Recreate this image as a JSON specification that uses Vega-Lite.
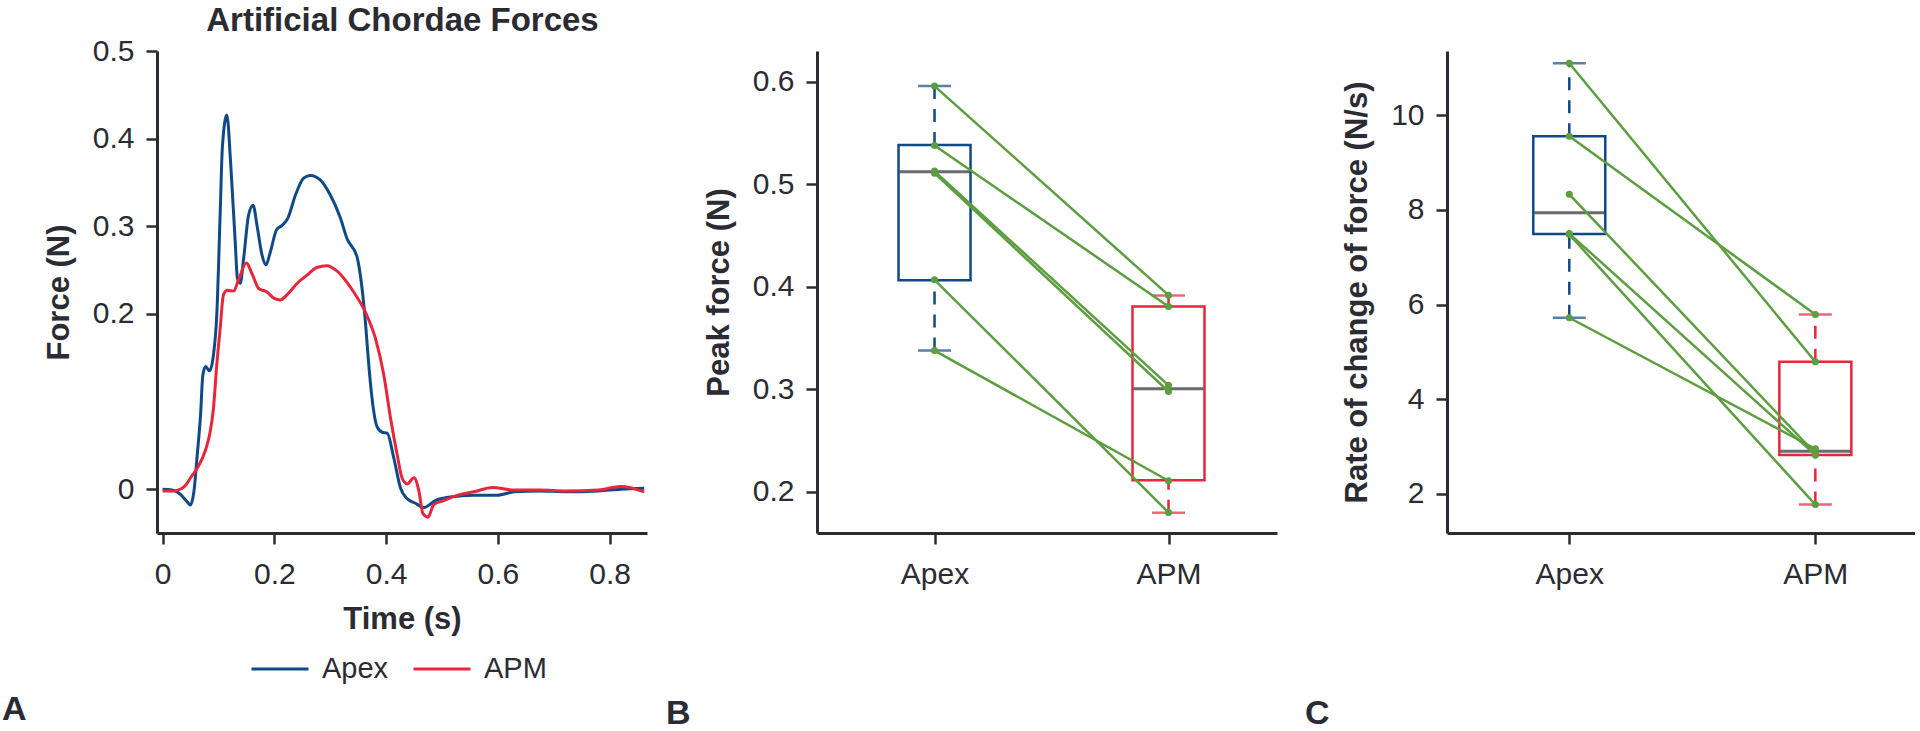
{
  "$schema": "https://vega.github.io/schema/vega-lite/v6.json",
  "background": "white",
  "padding": {"left": 2, "top": 4, "right": 0, "bottom": 0},
  "bounds": "flush",
  "spacing": 170,
  "config": {
    "view": {"stroke": null},
    "font": "Liberation Sans",
    "axis": {
      "domainColor": "#2b2b33", "domainWidth": 3,
      "tickColor": "#2b2b33", "tickWidth": 2.5, "tickSize": 11,
      "labelColor": "#2b2b33", "labelFontSize": 30, "labelFont": "Liberation Sans",
      "titleColor": "#2b2b33", "titleFontSize": 31, "titleFontWeight": "bold", "titleFont": "Liberation Sans",
      "grid": false
    },
    "axisX": {"labelPadding": 15, "titlePadding": 15, "labelAngle": 0},
    "axisY": {"labelPadding": 12, "titlePadding": 17},
    "title": {"font": "Liberation Sans", "fontSize": 34, "fontWeight": "bold", "color": "#2b2b33"},
    "legend": {"labelFont": "Liberation Sans", "labelFontSize": 29, "labelColor": "#2b2b33"}
  },
  "datasets": {
    "force": [
      {"s": "Apex", "t": 0, "F": 0},
      {"s": "Apex", "t": 0.017, "F": -0.001},
      {"s": "Apex", "t": 0.032, "F": -0.006},
      {"s": "Apex", "t": 0.042, "F": -0.013},
      {"s": "Apex", "t": 0.05, "F": -0.018},
      {"s": "Apex", "t": 0.056, "F": -0.003},
      {"s": "Apex", "t": 0.062, "F": 0.039},
      {"s": "Apex", "t": 0.068, "F": 0.085},
      {"s": "Apex", "t": 0.072, "F": 0.13},
      {"s": "Apex", "t": 0.077, "F": 0.14},
      {"s": "Apex", "t": 0.084, "F": 0.135},
      {"s": "Apex", "t": 0.091, "F": 0.153},
      {"s": "Apex", "t": 0.097, "F": 0.199},
      {"s": "Apex", "t": 0.103, "F": 0.313},
      {"s": "Apex", "t": 0.107, "F": 0.39},
      {"s": "Apex", "t": 0.115, "F": 0.427},
      {"s": "Apex", "t": 0.122, "F": 0.37},
      {"s": "Apex", "t": 0.13, "F": 0.282},
      {"s": "Apex", "t": 0.134, "F": 0.24},
      {"s": "Apex", "t": 0.139, "F": 0.235},
      {"s": "Apex", "t": 0.145, "F": 0.263},
      {"s": "Apex", "t": 0.154, "F": 0.313},
      {"s": "Apex", "t": 0.162, "F": 0.324},
      {"s": "Apex", "t": 0.169, "F": 0.301},
      {"s": "Apex", "t": 0.178, "F": 0.267},
      {"s": "Apex", "t": 0.185, "F": 0.256},
      {"s": "Apex", "t": 0.193, "F": 0.271},
      {"s": "Apex", "t": 0.204, "F": 0.296},
      {"s": "Apex", "t": 0.214, "F": 0.301},
      {"s": "Apex", "t": 0.224, "F": 0.309},
      {"s": "Apex", "t": 0.238, "F": 0.336},
      {"s": "Apex", "t": 0.2525, "F": 0.355},
      {"s": "Apex", "t": 0.2645, "F": 0.358},
      {"s": "Apex", "t": 0.282, "F": 0.353},
      {"s": "Apex", "t": 0.3, "F": 0.336},
      {"s": "Apex", "t": 0.318, "F": 0.31},
      {"s": "Apex", "t": 0.33, "F": 0.286},
      {"s": "Apex", "t": 0.348, "F": 0.265},
      {"s": "Apex", "t": 0.357, "F": 0.229},
      {"s": "Apex", "t": 0.363, "F": 0.191},
      {"s": "Apex", "t": 0.369, "F": 0.142},
      {"s": "Apex", "t": 0.375, "F": 0.103},
      {"s": "Apex", "t": 0.384, "F": 0.071},
      {"s": "Apex", "t": 0.393, "F": 0.065},
      {"s": "Apex", "t": 0.402, "F": 0.064},
      {"s": "Apex", "t": 0.414, "F": 0.035},
      {"s": "Apex", "t": 0.426, "F": 0.001},
      {"s": "Apex", "t": 0.438, "F": -0.011},
      {"s": "Apex", "t": 0.4525, "F": -0.016},
      {"s": "Apex", "t": 0.4675, "F": -0.021},
      {"s": "Apex", "t": 0.488, "F": -0.013},
      {"s": "Apex", "t": 0.515, "F": -0.009},
      {"s": "Apex", "t": 0.557, "F": -0.007},
      {"s": "Apex", "t": 0.599, "F": -0.007},
      {"s": "Apex", "t": 0.629, "F": -0.003},
      {"s": "Apex", "t": 0.676, "F": -0.002},
      {"s": "Apex", "t": 0.72, "F": -0.003},
      {"s": "Apex", "t": 0.78, "F": -0.002},
      {"s": "Apex", "t": 0.82, "F": 0},
      {"s": "Apex", "t": 0.862, "F": 0.001},
      {"s": "APM", "t": 0, "F": -0.002},
      {"s": "APM", "t": 0.02, "F": -0.002},
      {"s": "APM", "t": 0.035, "F": 0.001},
      {"s": "APM", "t": 0.042, "F": 0.005},
      {"s": "APM", "t": 0.05, "F": 0.013},
      {"s": "APM", "t": 0.062, "F": 0.024},
      {"s": "APM", "t": 0.077, "F": 0.045},
      {"s": "APM", "t": 0.085, "F": 0.065},
      {"s": "APM", "t": 0.091, "F": 0.092},
      {"s": "APM", "t": 0.097, "F": 0.142},
      {"s": "APM", "t": 0.103, "F": 0.183},
      {"s": "APM", "t": 0.109, "F": 0.222},
      {"s": "APM", "t": 0.116, "F": 0.227},
      {"s": "APM", "t": 0.127, "F": 0.226},
      {"s": "APM", "t": 0.136, "F": 0.239},
      {"s": "APM", "t": 0.15, "F": 0.258},
      {"s": "APM", "t": 0.16, "F": 0.246},
      {"s": "APM", "t": 0.172, "F": 0.229},
      {"s": "APM", "t": 0.187, "F": 0.225},
      {"s": "APM", "t": 0.199, "F": 0.218},
      {"s": "APM", "t": 0.211, "F": 0.216},
      {"s": "APM", "t": 0.223, "F": 0.222},
      {"s": "APM", "t": 0.241, "F": 0.235},
      {"s": "APM", "t": 0.258, "F": 0.244},
      {"s": "APM", "t": 0.276, "F": 0.253},
      {"s": "APM", "t": 0.294, "F": 0.255},
      {"s": "APM", "t": 0.312, "F": 0.249},
      {"s": "APM", "t": 0.33, "F": 0.236},
      {"s": "APM", "t": 0.342, "F": 0.225},
      {"s": "APM", "t": 0.363, "F": 0.202},
      {"s": "APM", "t": 0.381, "F": 0.172},
      {"s": "APM", "t": 0.396, "F": 0.13},
      {"s": "APM", "t": 0.408, "F": 0.081},
      {"s": "APM", "t": 0.42, "F": 0.039},
      {"s": "APM", "t": 0.429, "F": 0.012},
      {"s": "APM", "t": 0.438, "F": 0.006},
      {"s": "APM", "t": 0.45, "F": 0.013},
      {"s": "APM", "t": 0.459, "F": -0.003},
      {"s": "APM", "t": 0.466, "F": -0.028},
      {"s": "APM", "t": 0.475, "F": -0.032},
      {"s": "APM", "t": 0.485, "F": -0.018},
      {"s": "APM", "t": 0.503, "F": -0.013},
      {"s": "APM", "t": 0.527, "F": -0.007},
      {"s": "APM", "t": 0.557, "F": -0.003},
      {"s": "APM", "t": 0.59, "F": 0.002},
      {"s": "APM", "t": 0.629, "F": -0.001},
      {"s": "APM", "t": 0.676, "F": -0.001},
      {"s": "APM", "t": 0.72, "F": -0.002},
      {"s": "APM", "t": 0.78, "F": -0.001},
      {"s": "APM", "t": 0.82, "F": 0.003},
      {"s": "APM", "t": 0.862, "F": -0.003}
    ],
    "peak": [
      {"id": 1, "g": "Apex", "v": 0.596}, {"id": 1, "g": "APM", "v": 0.392},
      {"id": 2, "g": "Apex", "v": 0.538}, {"id": 2, "g": "APM", "v": 0.381},
      {"id": 3, "g": "Apex", "v": 0.513}, {"id": 3, "g": "APM", "v": 0.304},
      {"id": 4, "g": "Apex", "v": 0.511}, {"id": 4, "g": "APM", "v": 0.298},
      {"id": 5, "g": "Apex", "v": 0.407}, {"id": 5, "g": "APM", "v": 0.18},
      {"id": 6, "g": "Apex", "v": 0.338}, {"id": 6, "g": "APM", "v": 0.211}
    ],
    "peakBox": [
      {"g": "Apex", "lo": 0.338, "q1": 0.4065, "med": 0.5124, "q3": 0.5384, "hi": 0.596},
      {"g": "APM", "lo": 0.1798, "q1": 0.2114, "med": 0.3006, "q3": 0.381, "hi": 0.3917}
    ],
    "rate": [
      {"id": 1, "g": "Apex", "v": 11.1}, {"id": 1, "g": "APM", "v": 4.79},
      {"id": 2, "g": "Apex", "v": 9.556}, {"id": 2, "g": "APM", "v": 5.79},
      {"id": 3, "g": "Apex", "v": 8.33}, {"id": 3, "g": "APM", "v": 2.85},
      {"id": 4, "g": "Apex", "v": 7.5}, {"id": 4, "g": "APM", "v": 2.82},
      {"id": 5, "g": "Apex", "v": 7.48}, {"id": 5, "g": "APM", "v": 1.77},
      {"id": 6, "g": "Apex", "v": 5.72}, {"id": 6, "g": "APM", "v": 2.95}
    ],
    "rateBox": [
      {"g": "Apex", "lo": 5.72, "q1": 7.49, "med": 7.94, "q3": 9.556, "hi": 11.1},
      {"g": "APM", "lo": 1.77, "q1": 2.82, "med": 2.9, "q3": 4.79, "hi": 5.79}
    ]
  },
  "hconcat": [
    {
      "width": 490,
      "height": 482,
      "title": {"text": "A", "orient": "bottom", "anchor": "start", "frame": "group", "offset": 59, "dx": -155},
      "data": {"name": "force"},
      "layer": [
        {
          "mark": {"type": "line", "strokeWidth": 3, "interpolate": "monotone"},
          "encoding": {
            "x": {"field": "t", "type": "quantitative",
                  "scale": {"domain": [-0.01, 0.867], "nice": false, "zero": false},
                  "axis": {"orient": "bottom", "title": "Time (s)", "values": [0, 0.2, 0.4, 0.6, 0.8], "format": "~g"}},
            "y": {"field": "F", "type": "quantitative",
                  "scale": {"domain": [-0.05, 0.5], "nice": false, "zero": false},
                  "axis": {"title": "Force (N)", "values": [0, 0.2, 0.3, 0.4, 0.5], "format": "~g"}},
            "color": {"field": "s", "type": "nominal",
                      "scale": {"domain": ["Apex", "APM"], "range": ["#0f4a86", "#e8263b"]},
                      "legend": {"title": null, "orient": "none", "legendX": 93, "legendY": 588, "direction": "horizontal",
                                 "symbolType": "stroke", "symbolSize": 3249, "symbolStrokeWidth": 3,
                                 "labelOffset": 12, "columnPadding": 18}}
          }
        },
        {
          "mark": {"type": "point", "opacity": 0},
          "encoding": {
            "x": {"field": "t", "type": "quantitative",
                  "axis": {"orient": "top", "title": "Artificial Chordae Forces", "titleFontSize": 33, "labels": false, "ticks": false, "domain": false, "titlePadding": 14}}
          }
        }
      ],
      "resolve": {"axis": {"x": "independent"}}
    },
    {
      "width": 460,
      "height": 482,
      "title": {"text": "B", "orient": "bottom", "anchor": "start", "frame": "group", "offset": 108, "dx": -151},
      "layer": [
        {
          "data": {"name": "peakBox"},
          "mark": {"type": "bar", "size": 72, "fill": "white", "strokeWidth": 2.5},
          "encoding": {
            "x": {"field": "g", "type": "nominal", "sort": ["Apex", "APM"],
                  "scale": {"type": "point", "padding": 0.483, "align": 0.52},
                  "axis": {"title": null}},
            "y": {"field": "q1", "type": "quantitative",
                  "scale": {"domain": [0.16, 0.6302], "nice": false, "zero": false},
                  "axis": {"title": "Peak force (N)", "values": [0.2, 0.3, 0.4, 0.5, 0.6], "format": "~g"}},
            "y2": {"field": "q3"},
            "stroke": {"field": "g", "type": "nominal", "scale": {"domain": ["Apex", "APM"], "range": ["#0f4a86", "#e8263b"]}, "legend": null}
          }
        },
        {
          "data": {"name": "peakBox"},
          "mark": {"type": "rule", "strokeWidth": 2.5, "strokeDash": [13, 10]},
          "encoding": {
            "x": {"field": "g", "type": "nominal", "sort": ["Apex", "APM"]},
            "y": {"field": "lo", "type": "quantitative"},
            "y2": {"field": "q1"},
            "color": {"field": "g", "type": "nominal", "scale": {"domain": ["Apex", "APM"], "range": ["#0f4a86", "#e8263b"]}, "legend": null}
          }
        },
        {
          "data": {"name": "peakBox"},
          "mark": {"type": "rule", "strokeWidth": 2.5, "strokeDash": [13, 10]},
          "encoding": {
            "x": {"field": "g", "type": "nominal", "sort": ["Apex", "APM"]},
            "y": {"field": "q3", "type": "quantitative"},
            "y2": {"field": "hi"},
            "color": {"field": "g", "type": "nominal", "legend": null}
          }
        },
        {
          "data": {"name": "peakBox"},
          "mark": {"type": "tick", "size": 33, "thickness": 2.5},
          "encoding": {
            "x": {"field": "g", "type": "nominal", "sort": ["Apex", "APM"]},
            "y": {"field": "lo", "type": "quantitative"},
            "color": {"field": "g", "type": "nominal", "legend": null}
          }
        },
        {
          "data": {"name": "peakBox"},
          "mark": {"type": "tick", "size": 33, "thickness": 2.5},
          "encoding": {
            "x": {"field": "g", "type": "nominal", "sort": ["Apex", "APM"]},
            "y": {"field": "hi", "type": "quantitative"},
            "color": {"field": "g", "type": "nominal", "legend": null}
          }
        },
        {
          "data": {"name": "peakBox"},
          "mark": {"type": "tick", "size": 70, "thickness": 3, "color": "#2b2b33"},
          "encoding": {
            "x": {"field": "g", "type": "nominal", "sort": ["Apex", "APM"]},
            "y": {"field": "med", "type": "quantitative"}
          }
        },
        {
          "data": {"name": "peak"},
          "mark": {"type": "line", "strokeWidth": 2.5, "color": "#5c9e3f"},
          "encoding": {
            "x": {"field": "g", "type": "nominal", "sort": ["Apex", "APM"]},
            "y": {"field": "v", "type": "quantitative"},
            "detail": {"field": "id", "type": "nominal"}
          }
        },
        {
          "data": {"name": "peak"},
          "mark": {"type": "circle", "size": 50, "color": "#5c9e3f", "opacity": 1},
          "encoding": {
            "x": {"field": "g", "type": "nominal", "sort": ["Apex", "APM"]},
            "y": {"field": "v", "type": "quantitative"}
          }
        }
      ]
    },
    {
      "width": 468,
      "height": 482,
      "title": {"text": "C", "orient": "bottom", "anchor": "start", "frame": "group", "offset": 108, "dx": -142},
      "layer": [
        {
          "data": {"name": "rateBox"},
          "mark": {"type": "bar", "size": 72, "fill": "white", "strokeWidth": 2.5},
          "encoding": {
            "x": {"field": "g", "type": "nominal", "sort": ["Apex", "APM"],
                  "scale": {"type": "point", "padding": 0.451, "align": 0.551},
                  "axis": {"title": null}},
            "y": {"field": "q1", "type": "quantitative",
                  "scale": {"domain": [1.169, 11.36], "nice": false, "zero": false},
                  "axis": {"title": "Rate of change of force (N/s)", "values": [2, 4, 6, 8, 10], "format": "~g"}},
            "y2": {"field": "q3"},
            "stroke": {"field": "g", "type": "nominal", "scale": {"domain": ["Apex", "APM"], "range": ["#0f4a86", "#e8263b"]}, "legend": null}
          }
        },
        {
          "data": {"name": "rateBox"},
          "mark": {"type": "rule", "strokeWidth": 2.5, "strokeDash": [13, 10]},
          "encoding": {
            "x": {"field": "g", "type": "nominal", "sort": ["Apex", "APM"]},
            "y": {"field": "lo", "type": "quantitative"},
            "y2": {"field": "q1"},
            "color": {"field": "g", "type": "nominal", "scale": {"domain": ["Apex", "APM"], "range": ["#0f4a86", "#e8263b"]}, "legend": null}
          }
        },
        {
          "data": {"name": "rateBox"},
          "mark": {"type": "rule", "strokeWidth": 2.5, "strokeDash": [13, 10]},
          "encoding": {
            "x": {"field": "g", "type": "nominal", "sort": ["Apex", "APM"]},
            "y": {"field": "q3", "type": "quantitative"},
            "y2": {"field": "hi"},
            "color": {"field": "g", "type": "nominal", "legend": null}
          }
        },
        {
          "data": {"name": "rateBox"},
          "mark": {"type": "tick", "size": 33, "thickness": 2.5},
          "encoding": {
            "x": {"field": "g", "type": "nominal", "sort": ["Apex", "APM"]},
            "y": {"field": "lo", "type": "quantitative"},
            "color": {"field": "g", "type": "nominal", "legend": null}
          }
        },
        {
          "data": {"name": "rateBox"},
          "mark": {"type": "tick", "size": 33, "thickness": 2.5},
          "encoding": {
            "x": {"field": "g", "type": "nominal", "sort": ["Apex", "APM"]},
            "y": {"field": "hi", "type": "quantitative"},
            "color": {"field": "g", "type": "nominal", "legend": null}
          }
        },
        {
          "data": {"name": "rateBox"},
          "mark": {"type": "tick", "size": 70, "thickness": 3, "color": "#2b2b33"},
          "encoding": {
            "x": {"field": "g", "type": "nominal", "sort": ["Apex", "APM"]},
            "y": {"field": "med", "type": "quantitative"}
          }
        },
        {
          "data": {"name": "rate"},
          "mark": {"type": "line", "strokeWidth": 2.5, "color": "#5c9e3f"},
          "encoding": {
            "x": {"field": "g", "type": "nominal", "sort": ["Apex", "APM"]},
            "y": {"field": "v", "type": "quantitative"},
            "detail": {"field": "id", "type": "nominal"}
          }
        },
        {
          "data": {"name": "rate"},
          "mark": {"type": "circle", "size": 50, "color": "#5c9e3f", "opacity": 1},
          "encoding": {
            "x": {"field": "g", "type": "nominal", "sort": ["Apex", "APM"]},
            "y": {"field": "v", "type": "quantitative"}
          }
        }
      ]
    }
  ]
}
